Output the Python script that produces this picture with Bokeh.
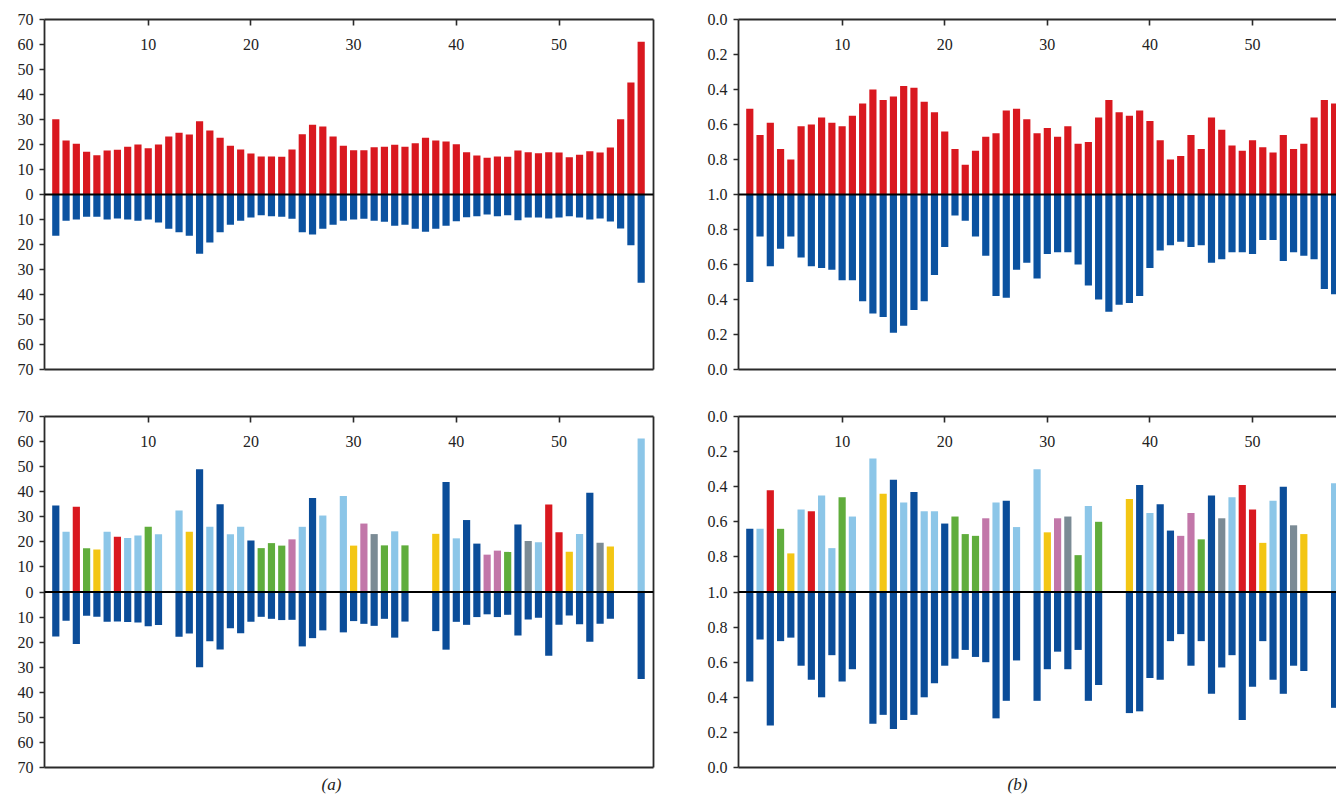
from bokeh.plotting import figure
from bokeh.models import (ColumnDataSource, LinearAxis, FixedTicker, CustomJSTickFormatter,
                          Span, Title, Range1d, Grid)
from bokeh.layouts import column, row
from bokeh.embed import file_html
from bokeh.resources import INLINE

positions = list(range(1, 59))
x_ticks = [10, 20, 30, 40, 50]
left_ticks = [-70, -60, -50, -40, -30, -20, -10, 0, 10, 20, 30, 40, 50, 60, 70]
right_ticks = [-1.0, -0.8, -0.6, -0.4, -0.2, 0.0, 0.2, 0.4, 0.6, 0.8, 1.0]

# panel (a), top
a_top_up = [30.1, 21.6, 20.3, 17.1, 15.7, 17.6, 17.9, 19.1, 20.0, 18.5,
            20.0, 23.2, 24.7, 24.0, 29.3, 25.6, 22.7, 19.5, 18.0, 16.4,
            15.2, 15.2, 15.1, 18.0, 24.1, 27.9, 27.2, 23.2, 19.5, 17.7,
            17.7, 18.9, 19.1, 19.9, 19.1, 20.5, 22.7, 21.6, 21.2, 20.1,
            16.9, 15.6, 14.7, 15.2, 15.1, 17.6, 16.9, 16.5, 16.9, 16.8,
            14.9, 15.9, 17.3, 16.8, 18.8, 30.1, 44.8, 61.1]
a_top_down = [16.5, 10.5, 10.0, 8.9, 8.9, 10.0, 9.6, 10.0, 10.5, 10.0,
              11.2, 13.7, 15.1, 16.5, 23.7, 19.2, 15.1, 12.1, 10.5, 9.2,
              8.3, 8.7, 8.9, 9.7, 15.1, 16.0, 13.7, 12.1, 10.5, 10.0,
              9.7, 10.5, 10.9, 12.5, 12.1, 13.7, 14.9, 13.7, 12.5, 10.7,
              9.1, 8.7, 8.0, 8.7, 8.3, 10.3, 9.2, 9.2, 9.6, 9.2,
              8.7, 9.2, 10.0, 9.6, 10.8, 13.6, 20.3, 35.3]

# panel (b), top
b_top_up = [0.51, 0.66, 0.59, 0.74, 0.80, 0.61, 0.60, 0.56, 0.59, 0.61,
            0.55, 0.48, 0.40, 0.46, 0.44, 0.38, 0.39, 0.47, 0.53, 0.64,
            0.74, 0.83, 0.75, 0.67, 0.65, 0.52, 0.51, 0.57, 0.65, 0.62,
            0.67, 0.61, 0.71, 0.70, 0.56, 0.46, 0.53, 0.55, 0.52, 0.58,
            0.69, 0.80, 0.78, 0.66, 0.74, 0.56, 0.63, 0.72, 0.75, 0.69,
            0.73, 0.76, 0.66, 0.74, 0.71, 0.56, 0.46, 0.48]
b_top_down = [0.50, 0.76, 0.59, 0.69, 0.76, 0.64, 0.59, 0.58, 0.57, 0.51,
              0.51, 0.39, 0.32, 0.30, 0.21, 0.25, 0.34, 0.39, 0.54, 0.70,
              0.88, 0.85, 0.76, 0.65, 0.42, 0.41, 0.57, 0.61, 0.52, 0.66,
              0.67, 0.67, 0.60, 0.48, 0.40, 0.33, 0.37, 0.38, 0.42, 0.58,
              0.68, 0.71, 0.73, 0.70, 0.71, 0.61, 0.63, 0.67, 0.67, 0.66,
              0.74, 0.74, 0.62, 0.67, 0.65, 0.63, 0.46, 0.43]

# bottom panels: group of each position (None = no bar)
groups = ["darkblue", "lightblue", "red", "green", "yellow", "lightblue", "red", "lightblue", "lightblue", "green",
          "lightblue", None, "lightblue", "yellow", "darkblue", "lightblue", "darkblue", "lightblue", "lightblue", "darkblue",
          "green", "green", "green", "pink", "lightblue", "darkblue", "lightblue", None, "lightblue", "yellow",
          "pink", "grey", "green", "lightblue", "green", None, None, "yellow", "darkblue", "lightblue",
          "darkblue", "darkblue", "pink", "pink", "green", "darkblue", "grey", "lightblue", "red", "red",
          "yellow", "lightblue", "darkblue", "grey", "yellow", None, None, "lightblue"]

a_bot_up = [34.5, 24.0, 34.0, 17.5, 17.0, 24.0, 22.0, 21.5, 22.5, 26.0,
            23.0, None, 32.5, 24.0, 49.0, 26.0, 35.0, 23.0, 26.0, 20.5,
            17.5, 19.5, 18.5, 21.0, 26.0, 37.5, 30.5, None, 38.3, 18.5,
            27.3, 23.1, 18.6, 24.2, 18.6, None, None, 23.2, 43.9, 21.4,
            28.7, 19.3, 14.9, 16.5, 16.0, 26.9, 20.3, 19.8, 34.9, 23.8,
            16.1, 23.1, 39.6, 19.6, 18.1, None, None, 61.2]
a_bot_down = [17.7, 11.5, 20.7, 9.5, 9.9, 11.9, 11.8, 12.0, 12.2, 13.7,
              13.2, None, 17.8, 16.6, 30.0, 19.6, 22.9, 14.5, 16.5, 11.9,
              9.9, 10.7, 11.2, 11.1, 21.7, 18.4, 15.3, None, 16.1, 11.6,
              12.7, 13.5, 10.7, 18.2, 11.8, None, None, 15.6, 23.0, 11.9,
              13.1, 10.0, 8.9, 10.0, 9.1, 17.4, 11.0, 10.3, 25.4, 13.1,
              9.4, 12.9, 19.8, 12.7, 10.7, None, None, 34.7]

b_bot_up = [0.64, 0.64, 0.42, 0.64, 0.78, 0.53, 0.54, 0.45, 0.75, 0.46,
            0.57, None, 0.24, 0.44, 0.36, 0.49, 0.43, 0.54, 0.54, 0.61,
            0.57, 0.67, 0.68, 0.58, 0.49, 0.48, 0.63, None, 0.30, 0.66,
            0.58, 0.57, 0.79, 0.51, 0.60, None, None, 0.47, 0.39, 0.55,
            0.50, 0.65, 0.68, 0.55, 0.70, 0.45, 0.58, 0.46, 0.39, 0.53,
            0.72, 0.48, 0.40, 0.62, 0.67, None, None, 0.38]
b_bot_down = [0.49, 0.73, 0.24, 0.72, 0.74, 0.58, 0.50, 0.40, 0.64, 0.49,
              0.56, None, 0.25, 0.30, 0.22, 0.27, 0.30, 0.40, 0.48, 0.58,
              0.62, 0.67, 0.63, 0.60, 0.28, 0.38, 0.61, None, 0.38, 0.56,
              0.66, 0.56, 0.67, 0.38, 0.47, None, None, 0.31, 0.32, 0.51,
              0.50, 0.72, 0.76, 0.58, 0.72, 0.42, 0.57, 0.64, 0.27, 0.46,
              0.72, 0.50, 0.42, 0.58, 0.55, None, None, 0.34]

# styles
PALETTE = {"darkblue": "#0b4d99", "lightblue": "#8cc6e8", "red": "#d9181f",
           "green": "#60ad3c", "yellow": "#f3c614", "pink": "#c277a9", "grey": "#7b8b95"}
RED = "#d9181f"
BLUE = "#0b52a0"
AXIS_COLOR = "#2a2a2a"
FONT = "Liberation Serif"
BAR_W = 0.7
X_START = -0.1


def make_fig(width, height, x_end, y_lim, ticks, fmt_code, bl, br, bt, bb, right_border):
    p = figure(width=width, height=height,
               x_range=Range1d(X_START, x_end), y_range=Range1d(-y_lim, y_lim),
               output_backend="svg", toolbar_location=None,
               x_axis_location=None, y_axis_location=None,
               min_border_left=bl, min_border_right=br,
               min_border_top=bt, min_border_bottom=bb)
    p.outline_line_color = None
    p.background_fill_color = "white"
    p.border_fill_color = "white"
    for r in list(p.center):
        if isinstance(r, Grid):
            r.visible = False

    common = dict(axis_line_color=AXIS_COLOR, axis_line_width=1.8,
                  major_tick_line_color=AXIS_COLOR, major_tick_line_width=1.6,
                  minor_tick_line_color=None,
                  major_label_text_font=FONT, major_label_text_font_size="16px",
                  major_label_text_color="#222222")
    plain = {k: v for k, v in common.items() if k != "major_label_text_font_size"}

    left = LinearAxis(ticker=FixedTicker(ticks=ticks),
                      formatter=CustomJSTickFormatter(code=fmt_code),
                      major_tick_out=5, major_tick_in=0, major_label_standoff=6, **common)
    p.add_layout(left, "left")

    top = LinearAxis(ticker=FixedTicker(ticks=x_ticks),
                     major_tick_in=6, major_tick_out=0, major_label_standoff=-30, **common)
    p.add_layout(top, "above")

    bottom = LinearAxis(ticker=FixedTicker(ticks=[]), major_tick_in=0, major_tick_out=0,
                        major_label_text_font_size="0px", **plain)
    p.add_layout(bottom, "below")

    if right_border:
        rax = LinearAxis(ticker=FixedTicker(ticks=[]), major_tick_in=0, major_tick_out=0,
                         major_label_text_font_size="0px", **plain)
        p.add_layout(rax, "right")
    return p


def paired_source(ups, downs, cols, transform):
    xs, tops, bots, colors = [], [], [], []
    for x, u, d, c in zip(positions, ups, downs, cols):
        if u is None:
            continue
        xs.append(x)
        tops.append(transform(u))
        bots.append(-transform(d))
        colors.append(c)
    return ColumnDataSource(dict(x=xs, up=tops, down=bots, color=colors))


def draw(p, src, down_color):
    p.vbar(x="x", width=BAR_W, bottom=0, top="up", source=src,
           fill_color="color", line_color=None)
    p.vbar(x="x", width=BAR_W, bottom="down", top=0, source=src,
           fill_color=down_color, line_color=None)
    p.add_layout(Span(location=0, dimension="width", line_color="black", line_width=2))


ident = lambda v: v
inv = lambda v: 1.0 - v
abs_fmt = "return Math.abs(tick).toString();"
frac_fmt = "return (1 - Math.abs(tick)).toFixed(1);"

LW, RW = 698, 638
TH, BH = 389, 410
L_END = 59.2
R_END = X_START + 598 / 10.26

# top-left (a)
p1 = make_fig(LW, TH, L_END, 70, left_ticks, abs_fmt, 44, 45, 19, 20, True)
draw(p1, paired_source(a_top_up, a_top_down, [RED] * 58, ident), BLUE)

# top-right (b)
p2 = make_fig(RW, TH, R_END, 1.0, right_ticks, frac_fmt, 40, 0, 19, 20, False)
draw(p2, paired_source(b_top_up, b_top_down, [RED] * 58, inv), BLUE)

bot_colors = [PALETTE[g] if g else None for g in groups]

# bottom-left (a)
p3 = make_fig(LW, BH, L_END, 70, left_ticks, abs_fmt, 44, 45, 27, 30, True)
draw(p3, paired_source(a_bot_up, a_bot_down, bot_colors, ident), PALETTE["darkblue"])

# bottom-right (b)
p4 = make_fig(RW, BH, R_END, 1.0, right_ticks, frac_fmt, 40, 0, 27, 30, False)
draw(p4, paired_source(b_bot_up, b_bot_down, bot_colors, inv), PALETTE["darkblue"])

for p, txt, off in ((p3, "(a)", 277), (p4, "(b)", 269)):
    p.add_layout(Title(text=txt, align="left", offset=off, standoff=11,
                       text_font=FONT, text_font_style="italic",
                       text_font_size="17px", text_color="#222222"), "below")

layout = column(row(p1, p2), row(p3, p4))

open("out.html", "w").write(file_html(layout, INLINE))
